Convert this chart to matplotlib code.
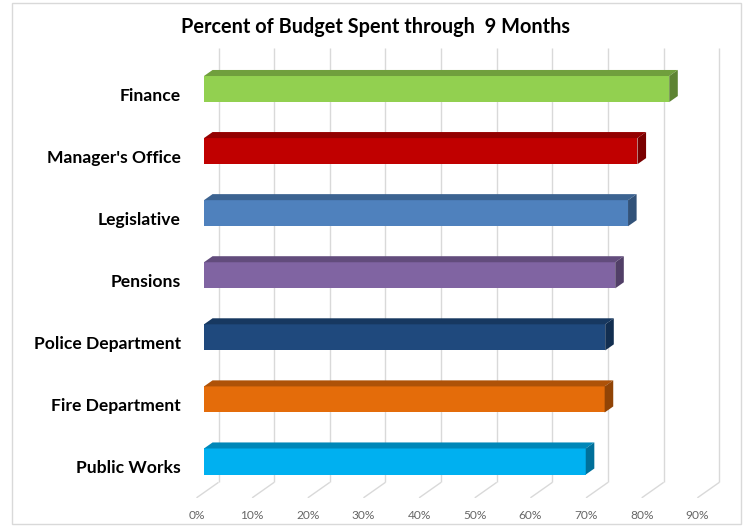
import matplotlib
matplotlib.use("Agg")
import matplotlib.pyplot as plt
from matplotlib.patches import Polygon, Rectangle
import numpy as np

# ---- data ----
categories = ["Public Works", "Fire Department", "Police Department", "Pensions",
              "Legislative", "Manager's Office", "Finance"]
values = [68.6, 72.0, 72.1, 73.9, 76.2, 77.9, 83.6]
front_colors = ["#00B0F0", "#E46C0A", "#1F497D", "#8064A2", "#4F81BD", "#C00000", "#92D050"]
top_colors = ["#0087B8", "#AE5208", "#173860", "#624C7C", "#3C6391", "#930000", "#709F3D"]
side_colors = ["#00709A", "#914406", "#122E50", "#513F67", "#325279", "#7A0000", "#5E8433"]
tick_values = [0, 10, 20, 30, 40, 50, 60, 70, 80, 90]
tick_labels = [f"{t}%" for t in tick_values]
title = "Percent of Budget Spent through  9 Months"

# ---- figure / layout ----
W, H = 745, 527
fig = plt.figure(figsize=(W / 100, H / 100), dpi=100)
fig.patch.set_facecolor("white")

# pixel layout of the front plane
px0 = 196.5          # pixel of 0% at front plane
pxs = 5.565          # pixels per percent
py0 = 466.8          # pixel (from top) of category 0 at front plane
pys = 62.08          # pixels per category
ax_left_px, ax_right_px = 190, 728
ax_top_px, ax_bot_px = 40, 497.8

ax = fig.add_axes([ax_left_px / W, (H - ax_bot_px) / H,
                   (ax_right_px - ax_left_px) / W, (ax_bot_px - ax_top_px) / H])
ax.set_xlim((ax_left_px - px0) / pxs, (ax_right_px - px0) / pxs)
ax.set_ylim((py0 - ax_bot_px) / pys, (py0 - ax_top_px) / pys)
ax.set_facecolor("none")
for s in ax.spines.values():
    s.set_visible(False)

# depth (oblique projection) in data units
DX = 22.0 / pxs
DY = 15.5 / pys
floor_y = -0.5
top_y = 6.5
d0, d1 = 0.34, 0.73
bar_h = 0.42

grid_c = "#D9D9D9"
for t in tick_values:
    # back wall line
    ax.plot([t + DX, t + DX], [floor_y + DY, top_y + DY], color=grid_c, lw=1.0, zorder=1,
            solid_capstyle="butt")
    # floor line
    ax.plot([t, t + DX], [floor_y, floor_y + DY], color=grid_c, lw=1.0, zorder=1,
            solid_capstyle="butt")

y_pos = np.arange(len(categories))
ddx = (d1 - d0) * DX
ddy = (d1 - d0) * DY
bars = ax.barh(y_pos + d0 * DY, values, left=d0 * DX, height=bar_h,
               color=front_colors, edgecolor="none", zorder=3)
for b, fc, tc, sc in zip(bars, front_colors, top_colors, side_colors):
    x0 = b.get_x()
    x1 = x0 + b.get_width()
    yb = b.get_y()
    yt = yb + b.get_height()
    top = Polygon([(x0, yt), (x1, yt), (x1 + ddx, yt + ddy), (x0 + ddx, yt + ddy)],
                  closed=True, facecolor=tc, edgecolor="none", zorder=3)
    side = Polygon([(x1, yb), (x1, yt), (x1 + ddx, yt + ddy), (x1 + ddx, yb + ddy)],
                   closed=True, facecolor=sc, edgecolor="none", zorder=3)
    ax.add_patch(top)
    ax.add_patch(side)

font = "Lato"
ax.set_yticks(y_pos)
ax.set_yticklabels(categories, fontsize=12.6, fontweight="bold", family=font, color="black")
ax.set_xticks(tick_values)
ax.set_xticklabels(tick_labels, fontsize=8.6, family=font, color="#666666")
ax.tick_params(axis="y", length=0, pad=6.5)
ax.tick_params(axis="x", length=0, pad=8.5)

fig.text(375.5 / W, 1 - 27 / H, title, ha="center", va="center", fontsize=14.3,
         fontweight="bold", family=font, color="black")

# chart border
fig.patches.append(Rectangle((12 / W, (H - 524) / H), (741 - 12) / W, (524 - 3) / H,
                             transform=fig.transFigure, fill=False, edgecolor="#D9D9D9",
                             lw=1.0))

fig.savefig("out.png", dpi=100)
